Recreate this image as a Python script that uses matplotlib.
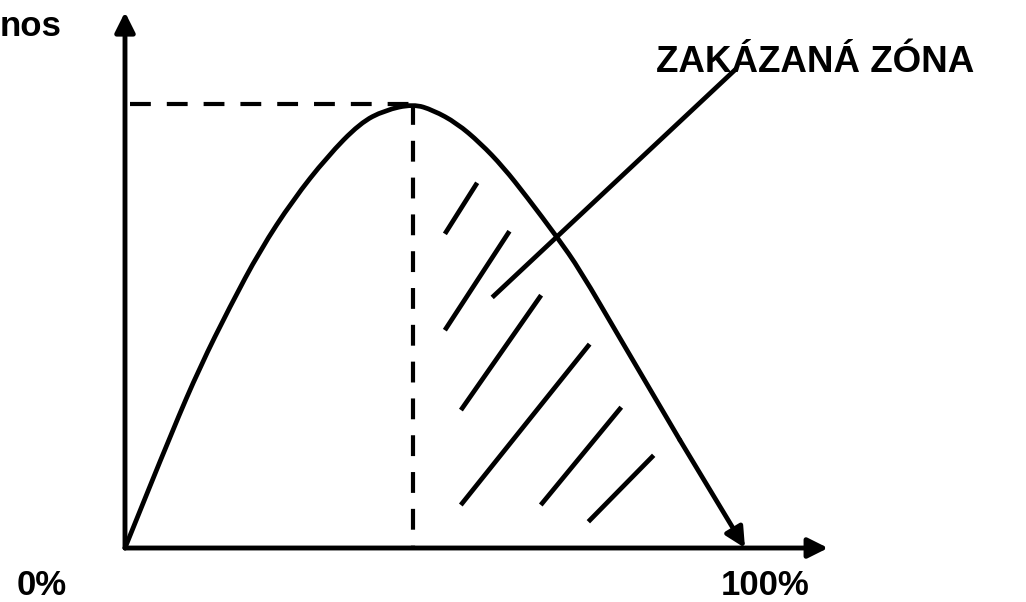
import matplotlib.pyplot as plt
from matplotlib.path import Path
from matplotlib.patches import PathPatch

plt.rcParams['font.family'] = ['Liberation Sans', 'DejaVu Sans']
plt.rcParams['lines.scale_dashes'] = False

# curve: x in % of load, y relative to the peak
curve_x = [0, 7.7, 12.1, 16.9, 21.8, 27.1, 32.6, 37.9, 41.9, 46.5,
           49.7, 53.5, 57.3, 61.0, 64.8, 69.7, 73.4, 79.8, 89.5, 100]
curve_y = [0, 0.266, 0.408, 0.543, 0.671, 0.784, 0.881, 0.957, 0.986, 1.0,
           0.986, 0.957, 0.912, 0.858, 0.791, 0.700, 0.626, 0.473, 0.243, 0]

peak_x = 46.5
peak_y = 1.0

# hatch strokes of the forbidden zone (x0, y0, x1, y1)
hatch = [
    (56.6, 0.818, 51.8, 0.712),
    (61.8, 0.709, 51.8, 0.495),
    (66.9, 0.565, 54.4, 0.315),
    (74.7, 0.455, 54.4, 0.101),
    (79.8, 0.313, 67.3, 0.101),
    (85.0, 0.205, 75.0, 0.063),
]
pointer = (59.5, 0.568, 98.4, 1.077)

zone_label = "ZAKÁZANÁ ZÓNA"
x_labels = ["0%", "100%"]
y_label = "nos"

fig = plt.figure(figsize=(10.26, 6.02), dpi=100)
ax = fig.add_axes([0, 0, 1, 1])
ax.set_xlim(-20.16, 145.32)
ax.set_ylim(-0.1216, 1.2342)
ax.axis('off')

lw = 3.4
arr = dict(arrowstyle='-|>,head_length=0.6,head_width=0.3', mutation_scale=20,
           color='black', lw=3.5, shrinkA=0, shrinkB=0)

# axes with arrows
ax.annotate('', xy=(0, 1.207), xytext=(0, 0), arrowprops=arr)
ax.annotate('', xy=(113.4, 0), xytext=(0, 0), arrowprops=arr)

# dashed guides to the peak
ax.plot([0.8, peak_x], [peak_y, peak_y], color='black', lw=3.0, ls=(0, (15, 11.5)))
ax.plot([peak_x, peak_x], [peak_y, 0], color='black', lw=3.0, ls=(0, (15, 11.5)))

# the curve: smooth path through the read points (quadratic segments via midpoints)
pts = list(zip(curve_x[:-1], curve_y[:-1]))
verts = [pts[0]]
codes = [Path.MOVETO]
for i in range(1, len(pts) - 1):
    mid = ((pts[i][0] + pts[i + 1][0]) / 2, (pts[i][1] + pts[i + 1][1]) / 2)
    if i == 1:
        verts.append(((pts[0][0] + pts[1][0]) / 2, (pts[0][1] + pts[1][1]) / 2))
        codes.append(Path.LINETO)
    verts += [pts[i], mid]
    codes += [Path.CURVE3, Path.CURVE3]
verts.append(pts[-1])
codes.append(Path.LINETO)
ax.add_patch(PathPatch(Path(verts, codes), facecolor='none', edgecolor='black', lw=lw,
                       capstyle='round', joinstyle='round'))
ax.annotate('', xy=(curve_x[-1], curve_y[-1]), xytext=(curve_x[-2], curve_y[-2]),
            arrowprops=dict(arr, lw=lw))

for x0, y0, x1, y1 in hatch:
    ax.plot([x0, x1], [y0, y1], color='black', lw=lw)
ax.plot([pointer[0], pointer[2]], [pointer[1], pointer[3]], color='black', lw=lw)

ax.text(111.3, 1.072, zone_label, fontsize=26.5, fontweight='bold', ha='center', va='baseline')
ax.text(-13.4, -0.106, x_labels[0], fontsize=25, fontweight='bold', ha='center', va='baseline')
ax.text(103.2, -0.106, x_labels[1], fontsize=25, fontweight='bold', ha='center', va='baseline')
ax.text(-10.2, 1.153, y_label, fontsize=25, fontweight='bold', ha='right', va='baseline')

fig.savefig('out.png', dpi=100, facecolor='white')
